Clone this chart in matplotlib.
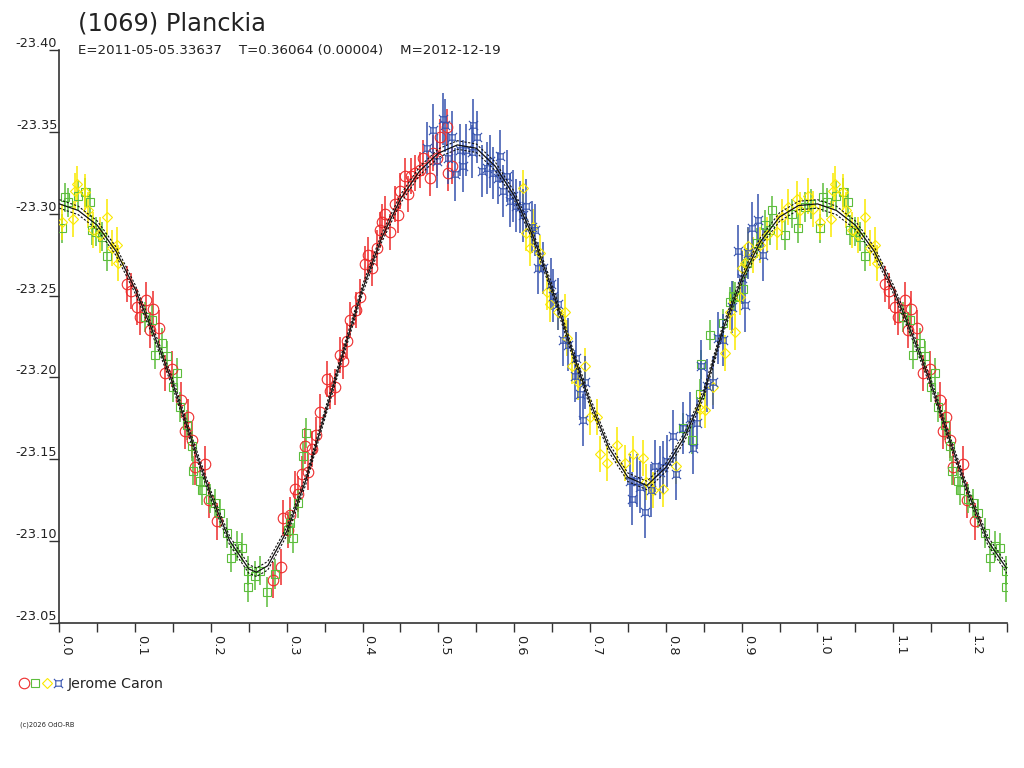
import numpy as np
import matplotlib
matplotlib.use("Agg")
import matplotlib.pyplot as plt
from matplotlib.path import Path
from matplotlib.lines import Line2D

# ---------------- data ----------------
title = "(1069) Planckia"
subtitle = "E=2011-05-05.33637    T=0.36064 (0.00004)    M=2012-12-19"
observer = "Jerome Caron"
credit = "(c)2026 OdO-RB"

# fitted curve (phase, magnitude)
fit_phase = [0.000, 0.025, 0.050, 0.075, 0.100, 0.125, 0.150, 0.175, 0.200, 0.225,
             0.250, 0.260, 0.275, 0.300, 0.325, 0.350, 0.375, 0.400, 0.425, 0.450,
             0.475, 0.500, 0.525, 0.550, 0.575, 0.600, 0.625, 0.650, 0.675, 0.700,
             0.725, 0.750, 0.775, 0.800, 0.825, 0.850, 0.875, 0.900, 0.925, 0.950,
             0.975, 1.000]
fit_mag = [-23.306, -23.302, -23.293, -23.277, -23.254, -23.226, -23.196, -23.161, -23.128, -23.100,
           -23.083, -23.081, -23.085, -23.106, -23.137, -23.177, -23.216, -23.254, -23.285, -23.309,
           -23.326, -23.337, -23.342, -23.340, -23.329, -23.311, -23.286, -23.254, -23.218, -23.185,
           -23.157, -23.139, -23.134, -23.145, -23.164, -23.190, -23.229, -23.260, -23.283, -23.298,
           -23.305, -23.306]
fit_band = 0.0026

red_phase = [0.089, 0.095, 0.102, 0.106, 0.115, 0.124, 0.120, 0.131, 0.139, 0.148,
             0.161, 0.170, 0.166, 0.175, 0.179, 0.192, 0.197, 0.2075,
             0.282, 0.293, 0.2955, 0.302, 0.304, 0.311, 0.315, 0.320, 0.324, 0.328,
             0.333, 0.339, 0.344, 0.3525, 0.357, 0.3635, 0.370, 0.3745, 0.379, 0.383,
             0.392, 0.3965, 0.403, 0.4075, 0.412, 0.4185, 0.423, 0.425, 0.4295, 0.436,
             0.443, 0.447, 0.449, 0.456, 0.460, 0.4645, 0.469, 0.4755, 0.480, 0.489,
             0.493, 0.498, 0.502, 0.511, 0.513, 0.5175]
red_mag = [-23.257, -23.253, -23.243, -23.237, -23.247, -23.242, -23.229, -23.230, -23.203, -23.205,
           -23.186, -23.176, -23.167, -23.162, -23.145, -23.147, -23.125, -23.112,
           -23.076, -23.084, -23.114, -23.107, -23.116, -23.132, -23.129, -23.141, -23.158, -23.142,
           -23.156, -23.165, -23.179, -23.199, -23.192, -23.194, -23.214, -23.210, -23.222, -23.235,
           -23.241, -23.249, -23.269, -23.275, -23.267, -23.279, -23.290, -23.295, -23.300, -23.289,
           -23.306, -23.299, -23.314, -23.323, -23.312, -23.323, -23.325, -23.327, -23.334, -23.322,
           -23.337, -23.334, -23.347, -23.353, -23.325, -23.329]
red_err = 0.011

green_phase = [0.003, 0.0075, 0.012, 0.025, 0.034, 0.040, 0.043, 0.049, 0.056, 0.0625,
               0.113, 0.122, 0.126, 0.135, 0.142, 0.150, 0.155, 0.159, 0.168, 0.175,
               0.177, 0.1855, 0.188, 0.199, 0.205, 0.212, 0.221, 0.227, 0.234, 0.2405,
               0.249, 0.249, 0.258, 0.265, 0.2735, 0.2845, 0.302, 0.3085, 0.315, 0.322,
               0.326, 0.304,
               0.823, 0.834, 0.845, 0.847, 0.858, 0.8755, 0.8845, 0.889, 0.891, 0.902,
               0.9065, 0.920, 0.9305, 0.937, 0.9395, 0.957, 0.966, 0.9745, 0.983, 0.992]
green_mag = [-23.291, -23.310, -23.307, -23.311, -23.313, -23.307, -23.290, -23.289, -23.286, -23.274,
             -23.237, -23.235, -23.214, -23.221, -23.213, -23.194, -23.203, -23.182, -23.171, -23.158,
             -23.143, -23.137, -23.131, -23.126, -23.123, -23.117, -23.105, -23.090, -23.097, -23.096,
             -23.082, -23.072, -23.079, -23.082, -23.069, -23.080, -23.107, -23.102, -23.123, -23.152,
             -23.166, -23.111,
             -23.169, -23.162, -23.190, -23.208, -23.226, -23.233, -23.246, -23.250, -23.249, -23.254,
             -23.270, -23.282, -23.293, -23.290, -23.302, -23.287, -23.300, -23.291, -23.304, -23.306]
green_err = 0.009

yellow_phase = [0.003, 0.018, 0.021, 0.023, 0.034, 0.038, 0.045, 0.054, 0.0625, 0.069,
                0.076, 0.078,
                0.612, 0.616, 0.621, 0.625, 0.634, 0.643, 0.647, 0.658, 0.667, 0.669,
                0.676, 0.684, 0.693, 0.700, 0.709, 0.713, 0.722, 0.735, 0.746, 0.757,
                0.770, 0.7745, 0.7835, 0.7965, 0.814, 0.845, 0.8515, 0.8625, 0.878, 0.8845,
                0.891, 0.8975, 0.900, 0.904, 0.9085, 0.915, 0.924, 0.933, 0.946, 0.953,
                0.9615, 0.9725, 0.977, 0.988, 0.994]
yellow_mag = [-23.295, -23.297, -23.314, -23.318, -23.313, -23.302, -23.290, -23.287, -23.298, -23.279,
              -23.281, -23.270,
              -23.316, -23.288, -23.279, -23.292, -23.276, -23.252, -23.245, -23.240, -23.240, -23.224,
              -23.207, -23.197, -23.207, -23.176, -23.176, -23.153, -23.148, -23.159, -23.148, -23.153,
              -23.151, -23.136, -23.131, -23.132, -23.146, -23.181, -23.180, -23.194, -23.215, -23.240,
              -23.228, -23.249, -23.267, -23.270, -23.280, -23.275, -23.281, -23.287, -23.289, -23.298,
              -23.304, -23.309, -23.302, -23.311, -23.303]
yellow_err = 0.011

blue_phase = [0.4845, 0.4935, 0.498, 0.5065, 0.5085, 0.513, 0.5175, 0.522, 0.528, 0.533,
              0.537, 0.544, 0.546, 0.5505, 0.557, 0.5635, 0.568, 0.572, 0.579, 0.581,
              0.5855, 0.590, 0.594, 0.599, 0.603, 0.6075, 0.612, 0.616, 0.623, 0.627,
              0.632, 0.638, 0.649, 0.6515, 0.658, 0.6645, 0.671, 0.680, 0.682, 0.687,
              0.691, 0.693, 0.7525, 0.755, 0.7615, 0.766, 0.772, 0.781, 0.7855, 0.792,
              0.7965, 0.801, 0.810, 0.814, 0.823, 0.832, 0.836, 0.8405, 0.847, 0.854,
              0.8625, 0.869, 0.8755, 0.887, 0.8955, 0.900, 0.904, 0.9085, 0.913, 0.922,
              0.928]
blue_mag = [-23.340, -23.351, -23.332, -23.358, -23.354, -23.334, -23.347, -23.324, -23.339, -23.329,
            -23.339, -23.338, -23.354, -23.347, -23.326, -23.328, -23.332, -23.325, -23.322, -23.335,
            -23.314, -23.323, -23.308, -23.311, -23.305, -23.304, -23.299, -23.305, -23.292, -23.290,
            -23.267, -23.267, -23.257, -23.250, -23.245, -23.223, -23.220, -23.201, -23.212, -23.190,
            -23.174, -23.197, -23.137, -23.126, -23.137, -23.133, -23.118, -23.131, -23.146, -23.142,
            -23.145, -23.149, -23.164, -23.141, -23.169, -23.175, -23.157, -23.172, -23.207, -23.195,
            -23.197, -23.224, -23.223, -23.243, -23.277, -23.261, -23.244, -23.276, -23.291, -23.296,
            -23.275]
blue_err = 0.016

x_ticks = [0.0, 0.1, 0.2, 0.3, 0.4, 0.5, 0.6, 0.7, 0.8, 0.9, 1.0, 1.1, 1.2]
y_ticks = [-23.40, -23.35, -23.30, -23.25, -23.20, -23.15, -23.10, -23.05]
x_max = 1.25

# ---------------- styles ----------------
RED = "#ee2b2b"
GREEN = "#5cbd3c"
YELLOW = "#fbe900"
BLUE = "#3552ae"
AXC = "#333333"
FONT = "DejaVu Sans"

plt.rcParams["font.family"] = [FONT]

# custom blue marker: square with corner spurs
bv = [(-0.5, -0.5), (0.5, -0.5), (0.5, 0.5), (-0.5, 0.5), (-0.5, -0.5),
      (-0.5, -0.5), (-0.85, -0.85),
      (0.5, -0.5), (0.85, -0.85),
      (0.5, 0.5), (0.85, 0.85),
      (-0.5, 0.5), (-0.85, 0.85)]
bc = [Path.MOVETO, Path.LINETO, Path.LINETO, Path.LINETO, Path.CLOSEPOLY,
      Path.MOVETO, Path.LINETO, Path.MOVETO, Path.LINETO,
      Path.MOVETO, Path.LINETO, Path.MOVETO, Path.LINETO]
blue_marker = Path(bv, bc)


def wrap(ph, mg):
    ph = np.asarray(ph, float)
    mg = np.asarray(mg, float)
    m = ph + 1.0 <= x_max + 0.002
    return np.concatenate([ph, ph[m] + 1.0]), np.concatenate([mg, mg[m]])


fig = plt.figure(figsize=(10.24, 7.68), dpi=100)
W, H = 1024.0, 768.0
ax = fig.add_axes([59.3 / W, 145.0 / H, 947.7 / W, 573.0 / H])

series = [
    (red_phase, red_mag, red_err, RED, "o", 7.6),
    (green_phase, green_mag, green_err, GREEN, "s", 6.0),
    (yellow_phase, yellow_mag, yellow_err, YELLOW, "D", 5.3),
    (blue_phase, blue_mag, blue_err, BLUE, blue_marker, 6.6),
]
for ph, mg, er, col, mk, ms in series:
    x, y = wrap(ph, mg)
    ax.errorbar(x, y, yerr=er, fmt="none", ecolor=col, elinewidth=1.1, capsize=0, zorder=2)
    ax.plot(x, y, linestyle="none", marker=mk, ms=ms, mfc="none", mec=col, mew=0.8, zorder=3)

# fitted curve, repeated past phase 1
fp = np.asarray(fit_phase)
fm = np.asarray(fit_mag)
cx = np.concatenate([fp, fp[1:] + 1.0])
cy = np.concatenate([fm, fm[1:]])
keep = cx <= x_max + 0.03
cx, cy = cx[keep], cy[keep]
ax.plot(cx, cy, color="#111111", lw=0.9, zorder=4)
ax.plot(cx, cy - fit_band, color="#111111", lw=0.8, ls=(0, (2, 1.5)), zorder=4)
ax.plot(cx, cy + fit_band, color="#111111", lw=0.8, ls=(0, (2, 1.5)), zorder=4)

ax.set_xlim(0, x_max)
ax.set_ylim(-23.05, -23.40)

for s in ["top", "right"]:
    ax.spines[s].set_visible(False)
for s in ["left", "bottom"]:
    ax.spines[s].set_color(AXC)
    ax.spines[s].set_linewidth(1.2)

ax.set_xticks(x_ticks)
ax.set_xticklabels(["%.1f" % v for v in x_ticks], rotation=-90, ha="left", va="top")
ax.set_xticks(np.arange(0.05, x_max + 0.001, 0.1), minor=True)
ax.tick_params(axis="x", which="both", direction="out", length=6.5, width=1.0,
               color=AXC, labelsize=9.3, labelcolor="#222222", pad=2)

ax.set_yticks(y_ticks)
ax.set_yticklabels(["%.2f" % v for v in y_ticks])
ax.tick_params(axis="y", which="major", direction="out", length=7.2, width=1.0,
               color=AXC, labelsize=9.3, labelcolor="#222222", pad=-5.8)
for lab in ax.get_yticklabels():
    lab.set_va("bottom")

# titles
fig.text(78 / W, 1 - 31 / H, title, fontsize=17.4, color="#222222", ha="left", va="baseline")
fig.text(78 / W, 1 - 54 / H, subtitle, fontsize=9.6, color="#222222", ha="left", va="baseline")

# legend
leg_items = [(24, RED, "o", 7.6), (35, GREEN, "s", 6.0), (47, YELLOW, "D", 5.3), (58, BLUE, blue_marker, 6.6)]
for xp, col, mk, ms in leg_items:
    fig.add_artist(Line2D([xp / W], [1 - 683 / H], transform=fig.transFigure, linestyle="none",
                          marker=mk, ms=ms, mfc="none", mec=col, mew=0.8))
fig.text(68 / W, 1 - 688 / H, observer, fontsize=10.2, color="#222222", ha="left", va="baseline")
fig.text(20 / W, 1 - 727 / H, credit, fontsize=4.8, color="#222222", ha="left", va="baseline")

fig.savefig("out.png", dpi=100)
